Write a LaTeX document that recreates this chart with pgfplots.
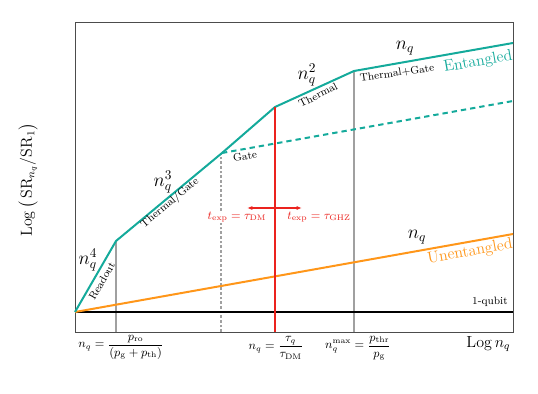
\documentclass[border=0pt]{standalone}
\usepackage{amsmath}
\usepackage{pgfplots}
\pgfplotsset{compat=1.18}
\usetikzlibrary{arrows.meta}
\definecolor{tealc}{RGB}{20,170,155}
\definecolor{orangec}{RGB}{255,150,25}
\definecolor{redc}{RGB}{235,35,30}
\definecolor{greyc}{RGB}{160,160,160}

\begin{document}
\begin{tikzpicture}
\begin{axis}[scale only axis,width=328.5pt,height=232.5pt,
  xmin=75,xmax=513,ymin=0,ymax=310,xtick=\empty,ytick=\empty,
  axis line style={black!70,line width=0.7pt},clip=false]
% guide lines
\addplot[greyc,line width=1.1pt] coordinates {(116,0)(116,91)};
\addplot[greyc,line width=0.9pt,dash pattern=on 2pt off 1.5pt] coordinates {(221,0)(221,179)};
\addplot[greyc,line width=1.1pt] coordinates {(354,0)(354,261)};
\addplot[black,line width=0.9pt] coordinates {(75,20)(513,20)};
% unentangled
\addplot[orangec,line width=1.5pt] coordinates {(75,20)(513,98)};
% entangled
\addplot[tealc,line width=1.5pt,dash pattern=on 4pt off 3pt] coordinates {(222,179)(513,231)};
\addplot[tealc,line width=1.5pt] coordinates {(75,20)(116,91)(222,179)(275,225)(354,261)(513,289)};
% red marker
\addplot[redc,line width=2pt] coordinates {(275,0)(275,225)};
\addplot[redc,line width=0.8pt,-{Latex[length=4pt]}] coordinates {(275,124)(247,124)};
\addplot[redc,line width=0.8pt,-{Latex[length=4pt]}] coordinates {(275,124)(302,124)};

\node[font=\Large] at (axis cs:88,72) {$n_q^4$};
\node[font=\footnotesize,rotate=60] at (axis cs:102,51) {Readout};
\node[font=\footnotesize,rotate=40] at (axis cs:170,129) {Thermal/Gate};
\node[font=\Large] at (axis cs:163,150) {$n_q^3$};
\node[font=\footnotesize,rotate=8] at (axis cs:245,176) {Gate};
\node[font=\Large] at (axis cs:307,257) {$n_q^2$};
\node[font=\footnotesize,rotate=27] at (axis cs:318,237) {Thermal};
\node[font=\footnotesize,rotate=8] at (axis cs:397,259) {Thermal+Gate};
\node[font=\Large] at (axis cs:405,284) {$n_q$};
\node[font=\large,text=tealc,rotate=10] at (axis cs:478,270) {Entangled};
\node[font=\Large] at (axis cs:417,95) {$n_q$};
\node[font=\large,text=orangec,rotate=10] at (axis cs:470,80) {Unentangled};
\node[font=\footnotesize] at (axis cs:490,30) {1-qubit};
\node[text=redc,fill=white,inner sep=1pt,font=\small] at (axis cs:237,115) {$t_{\mathrm{exp}}=\tau_{\mathrm{DM}}$};
\node[text=redc,font=\small] at (axis cs:319,115) {$t_{\mathrm{exp}}=\tau_{\mathrm{GHZ}}$};

\node[font=\small] at (axis cs:121,-15) {$n_q=\dfrac{p_{\mathrm{ro}}}{(p_{\mathrm{g}}+p_{\mathrm{th}})}$};
\node[font=\small] at (axis cs:276,-16) {$n_q=\dfrac{\tau_q}{\tau_{\mathrm{DM}}}$};
\node[font=\small] at (axis cs:358,-16) {$n_q^{\mathrm{max}}=\dfrac{p_{\mathrm{thr}}}{p_{\mathrm{g}}}$};
\node[font=\large,anchor=east] at (axis cs:515,-12) {$\mathrm{Log}\, n_q$};
\node[font=\large,rotate=90] at (axis cs:28,152) {$\mathrm{Log}\left(\,\mathrm{SR}_{n_q}/\mathrm{SR}_1\right)$};

\coordinate (bl) at (axis cs:0,-61);
\coordinate (tr) at (axis cs:538,332);
\end{axis}
\pgfresetboundingbox
\useasboundingbox (bl) rectangle (tr);
\end{tikzpicture}
\end{document}
